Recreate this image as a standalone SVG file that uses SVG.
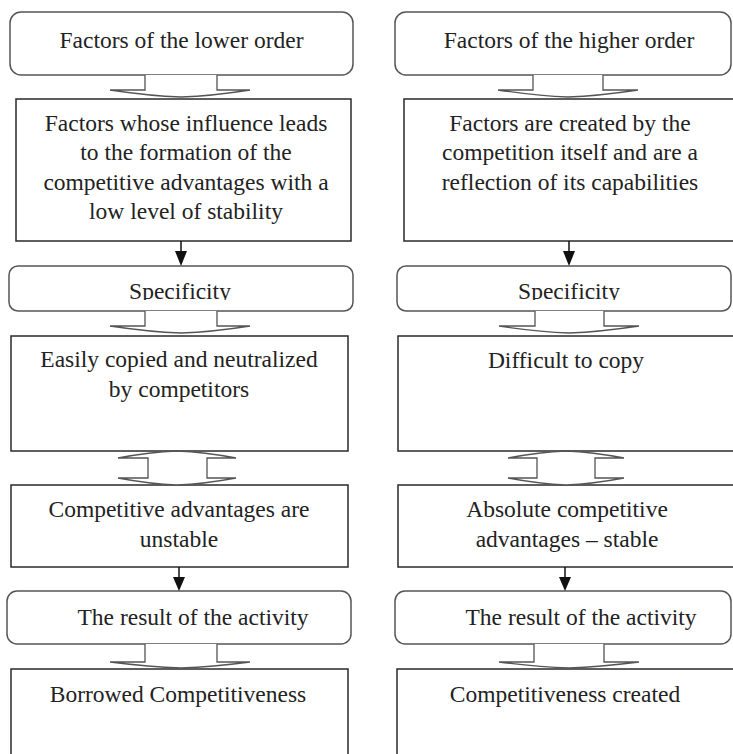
<svg xmlns="http://www.w3.org/2000/svg" width="733" height="754" viewBox="0 0 733 754">
  <style>
    .rnd { fill: #ffffff; stroke: #555555; stroke-width: 1.5; }
    .box { fill: #ffffff; stroke: #2a2a2a; stroke-width: 1.5; }
    .blk { fill: #ffffff; stroke: #555555; stroke-width: 1.3; stroke-linejoin: miter; }
    .lbl { font-family: "Liberation Serif", "Times New Roman", serif; font-size: 23.5px; fill: #222222; text-anchor: middle; }
    .ln { stroke: #111111; stroke-width: 1.5; fill: none; }
    .hd { fill: #111111; stroke: none; }
  </style>
  <defs>
    <clipPath id="clipSpecL"><rect x="9" y="266" width="344" height="34"/></clipPath>
    <clipPath id="clipSpecR"><rect x="397" y="266" width="336" height="34"/></clipPath>
  </defs>
  <rect width="733" height="754" fill="#ffffff"/>

  <!-- left column -->
  <g id="lower-order">
    <rect class="rnd" x="10" y="12" width="343" height="63" rx="11"/>
    <text class="lbl" x="181.5" y="48">Factors of the lower order</text>
  </g>
  <g id="lower-factors">
    <rect class="box" x="16" y="99" width="335" height="142"/>
    <text class="lbl" x="186" y="130.5">Factors whose influence leads</text>
    <text class="lbl" x="186" y="160">to the formation of the</text>
    <text class="lbl" x="186" y="189.5">competitive advantages with a</text>
    <text class="lbl" x="186" y="219">low level of stability</text>
  </g>
  <g id="spec-left">
    <rect class="rnd" x="9" y="266" width="344" height="45" rx="9"/>
    <text class="lbl" x="180" y="299" clip-path="url(#clipSpecL)">Specificity</text>
  </g>
  <g id="easily-copied">
    <rect class="box" x="11" y="336" width="337" height="115"/>
    <text class="lbl" x="179" y="367">Easily copied and neutralized</text>
    <text class="lbl" x="179" y="397">by competitors</text>
  </g>
  <g id="unstable">
    <rect class="box" x="11" y="485" width="337" height="82"/>
    <text class="lbl" x="179" y="517">Competitive advantages are</text>
    <text class="lbl" x="179" y="547">unstable</text>
  </g>
  <g id="result-left">
    <rect class="rnd" x="7" y="591" width="344" height="53" rx="10"/>
    <text class="lbl" x="193" y="625">The result of the activity</text>
  </g>
  <g id="borrowed">
    <rect class="box" x="11" y="669" width="337" height="100"/>
    <text class="lbl" x="178" y="702">Borrowed Competitiveness</text>
  </g>

  <!-- right column -->
  <g id="higher-order">
    <rect class="rnd" x="395" y="12" width="336" height="63" rx="11"/>
    <text class="lbl" x="569" y="48">Factors of the higher order</text>
  </g>
  <g id="higher-factors">
    <rect class="box" x="404" y="99" width="340" height="142"/>
    <text class="lbl" x="570" y="130.5">Factors are created by the</text>
    <text class="lbl" x="570" y="160">competition itself and are a</text>
    <text class="lbl" x="570" y="189.5">reflection of its capabilities</text>
  </g>
  <g id="spec-right">
    <rect class="rnd" x="397" y="266" width="334" height="45" rx="9"/>
    <text class="lbl" x="569" y="299" clip-path="url(#clipSpecR)">Specificity</text>
  </g>
  <g id="difficult">
    <rect class="box" x="398" y="336" width="346" height="115"/>
    <text class="lbl" x="566" y="368">Difficult to copy</text>
  </g>
  <g id="stable">
    <rect class="box" x="398" y="485" width="346" height="82"/>
    <text class="lbl" x="567" y="517">Absolute competitive</text>
    <text class="lbl" x="567" y="547">advantages – stable</text>
  </g>
  <g id="result-right">
    <rect class="rnd" x="395" y="591" width="336" height="53" rx="10"/>
    <text class="lbl" x="581" y="625">The result of the activity</text>
  </g>
  <g id="created">
    <rect class="box" x="397" y="669" width="347" height="100"/>
    <text class="lbl" x="565" y="702">Competitiveness created</text>
  </g>

  <g id="connectors">
    <!-- block arrows (left) -->
    <path class="blk" d="M145,75 V90 H110 Q150,96 181,97 Q212,96 250,90 H217 V75"/>
    <path class="blk" d="M145,311 V326 H110 Q150,332 181,333 Q212,332 250,326 H217 V311"/>
    <path class="blk" d="M148,458 H118 Q150,452 177,451 Q204,452 236,458 H207 V478 H236 Q204,484 177,485 Q150,484 118,478 H148 Z"/>
    <path class="blk" d="M145,644 V662 H110 Q150,667 181,668 Q212,667 250,662 H217 V644"/>
    <!-- block arrows (right) -->
    <path class="blk" d="M533,75 V90 H498 Q538,96 568,97 Q598,96 638,90 H603 V75"/>
    <path class="blk" d="M535,311 V326 H499 Q539,332 569,333 Q599,332 639,326 H604 V311"/>
    <path class="blk" d="M537,458 H508 Q540,452 566,451 Q592,452 624,458 H595 V478 H624 Q592,484 566,485 Q540,484 508,478 H537 Z"/>
    <path class="blk" d="M534,644 V662 H499 Q539,667 569,668 Q599,667 639,662 H604 V644"/>
    <!-- thin arrows -->
    <line class="ln" x1="181" y1="241" x2="181" y2="252"/>
    <polygon class="hd" points="175,251 187,251 181,266"/>
    <line class="ln" x1="179" y1="567" x2="179" y2="578"/>
    <polygon class="hd" points="173,577 185,577 179,591"/>
    <line class="ln" x1="569" y1="241" x2="569" y2="252"/>
    <polygon class="hd" points="563,251 575,251 569,266"/>
    <line class="ln" x1="565" y1="567" x2="565" y2="578"/>
    <polygon class="hd" points="559,577 571,577 565,591"/>
  </g>
</svg>
